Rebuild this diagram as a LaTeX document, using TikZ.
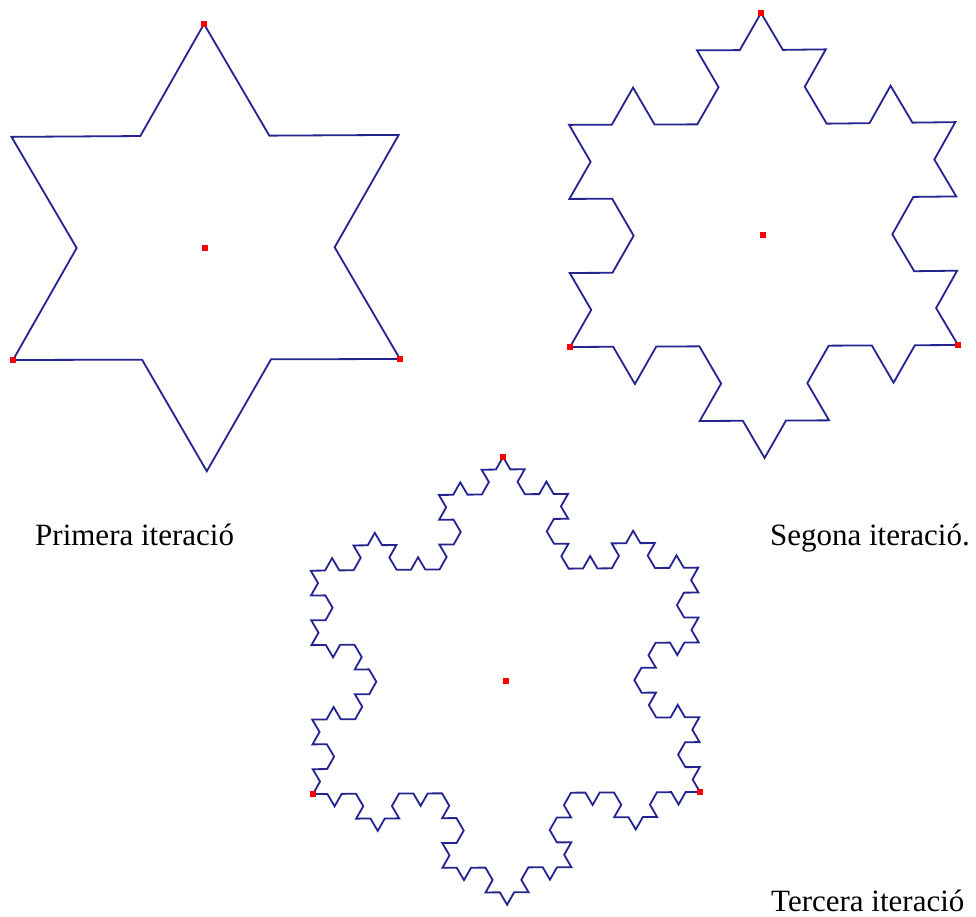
\documentclass[tikz,border=0pt]{standalone}
\usepackage{fontspec}
\setmainfont{Liberation Serif}
\usepackage{tikz}
\usetikzlibrary{decorations.fractals}
\definecolor{kochblue}{RGB}{35,35,145}
\definecolor{red}{RGB}{250,0,0}

\tikzset{
	flake/.style={draw=kochblue, line width=1.8pt, line join=miter, decoration=Koch snowflake},
	vdot/.style={rectangle, fill=red, inner sep=0pt, minimum size=5.5pt},
	caption/.style={inner sep=0pt, font=\fontsize{31}{36}\selectfont}
}

\begin{document}
\begin{tikzpicture}[x=1pt, y=-1pt]
				\useasboundingbox (0,0) rectangle (976,916);
				\path 
				
				(204,24)  coordinate (t1)
				(13,360)  coordinate (l1)
				(400,359) coordinate (r1)
				(761,13)  coordinate (t2)
				(570,347) coordinate (l2)
				(958,345) coordinate (r2)
				(503,457) coordinate (t3)
				(313,794) coordinate (l3)
				(700,792) coordinate (r3)
				;
				
				% primera, segona i tercera
				\draw[flake] decorate{(t1) -- (r1) -- (l1) -- (t1)};
				\draw[flake] decorate{decorate{(t2) -- (r2) -- (l2) -- (t2)}};
				\draw[flake] decorate{decorate{decorate{(t3) -- (r3) -- (l3) -- (t3)}}};
				
				% punts vermells
				\node[vdot] (c1) at (205,248) {};
				\node[vdot] (v1) at (t1) {};
				\node[vdot] (w1) at (l1) {};
				\node[vdot] (u1) at (r1) {};
				\node[vdot] (c2) at (763,235) {};
				\node[vdot] (v2) at (t2) {};
				\node[vdot] (w2) at (l2) {};
				\node[vdot] (u2) at (r2) {};
				\node[vdot] (c3) at (506,681) {};
				\node[vdot] (v3) at (t3) {};
				\node[vdot] (w3) at (l3) {};
				\node[vdot] (u3) at (r3) {};
				
				\node[caption, anchor=base west] (lab1) at (35,545) {Primera iteració};
				\node[caption, anchor=base east] (lab2) at (970,545) {Segona iteració.};
				\node[caption, anchor=base west] (lab3) at (771,911) {Tercera iteració};
				
\end{tikzpicture}
\end{document}
